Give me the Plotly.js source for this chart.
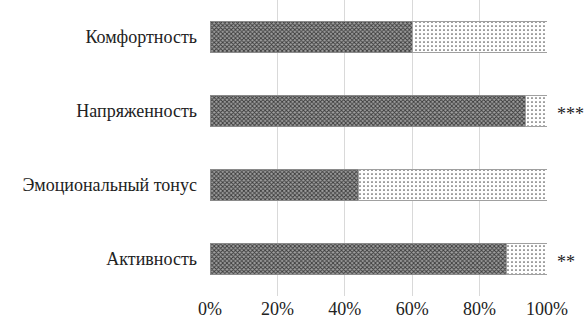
<!DOCTYPE html>
<html><head><meta charset="utf-8">
<script src="https://cdn.plot.ly/plotly-3.0.1.min.js"></script>
<style>html,body{margin:0;padding:0;background:#fff}#c{width:585px;height:327px}</style>
</head><body><div id="c"></div>
<script>
const categories = ["Активность", "Эмоциональный тонус", "Напряженность", "Комфортность"];
const seriesDark = [0.88, 0.44, 0.935, 0.60];
const seriesLight = [0.12, 0.56, 0.065, 0.40];
const significance = ["**", "", "***", ""];
const tickVals = [0, 0.2, 0.4, 0.6, 0.8, 1.0];
const tickText = ["0%", "20%", "40%", "60%", "80%", "100%"];

const font = "'Liberation Serif', 'Times New Roman', serif";
const traces = [
  {type: "bar", orientation: "h", y: categories, x: seriesDark, width: 0.41,
   marker: {color: "#9a9a9a", line: {color: "#8a8a8a", width: 1},
            pattern: {shape: "x", fgcolor: "#3a3a3a", bgcolor: "#a0a0a0", size: 3, solidity: 0.5}},
   hoverinfo: "skip"},
  {type: "bar", orientation: "h", y: categories, x: seriesLight, width: 0.41,
   marker: {color: "#ffffff", line: {color: "#a0a0a0", width: 1},
            pattern: {shape: ".", fgcolor: "#555555", bgcolor: "#ffffff", size: 4, solidity: 0.15}},
   hoverinfo: "skip"}
];
const annotations = [];
categories.forEach((c, i) => {
  if (significance[i]) annotations.push({x: 1.025, y: c, xref: "paper", yref: "y", text: significance[i],
    showarrow: false, xanchor: "left", yanchor: "middle", yshift: -3,
    font: {family: font, size: 18, color: "#222"}});
});
const layout = {
  width: 585, height: 327, barmode: "stack", showlegend: false,
  margin: {l: 210, r: 38, t: 0, b: 31},
  paper_bgcolor: "#fff", plot_bgcolor: "#fff",
  xaxis: {range: [0, 1], tickvals: tickVals, ticktext: tickText, showgrid: true,
          gridcolor: "#d9d9d9", gridwidth: 1, zeroline: false, showline: false,
          tickfont: {family: font, size: 18, color: "#222"}, ticks: "", ticklen: 0},
  yaxis: {range: [-0.5, 3.5], showgrid: false, zeroline: false, showline: false, ticks: "",
          ticklabelstandoff: 12, tickfont: {family: font, size: 18, color: "#222"}, automargin: false},
  annotations: annotations,
  font: {family: font}
};
Plotly.newPlot("c", traces, layout, {staticPlot: true, displayModeBar: false});
</script></body></html>
